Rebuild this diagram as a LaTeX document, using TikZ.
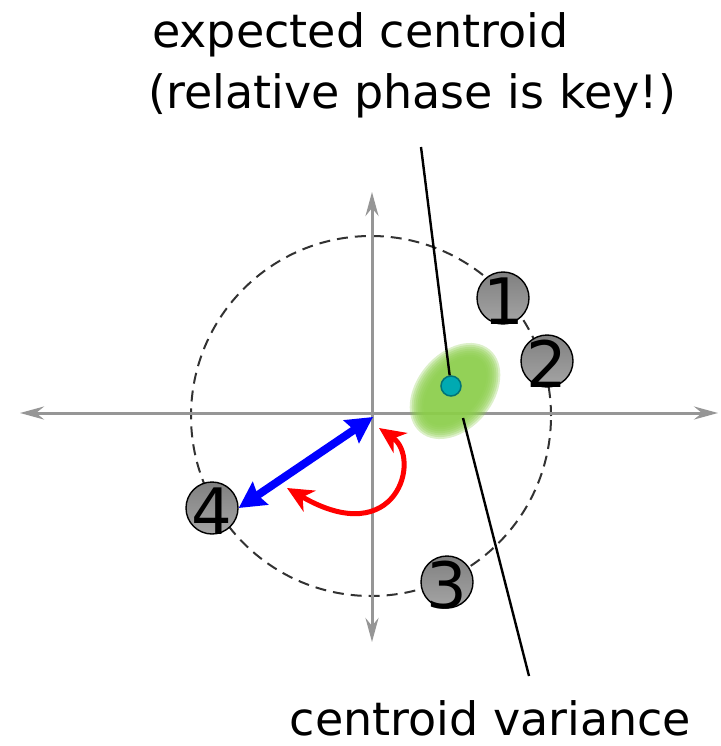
\documentclass[tikz,border=0pt]{standalone}
\usepackage{fontspec}
\setmainfont{DejaVu Sans}
\usetikzlibrary{arrows.meta,calc}
\definecolor{axisgray}{RGB}{150,150,150}
\definecolor{blobgreen}{RGB}{140,206,76}
\definecolor{dotcyan}{RGB}{0,170,178}
\definecolor{dotedge}{RGB}{0,115,120}
\definecolor{dashgray}{RGB}{50,50,50}
\definecolor{balltop}{RGB}{128,128,128}
\definecolor{ballbot}{RGB}{165,165,165}
\begin{document}
\begin{tikzpicture}[x=1pt,y=-1pt,
  axisline/.style={draw=axisgray, line width=3pt,
    {Stealth[length=24pt,width=13pt,inset=8pt]}-{Stealth[length=24pt,width=13pt,inset=8pt]}},
  orbit/.style={circle, draw=dashgray, line width=2pt, dash pattern=on 11pt off 7pt, minimum size=360pt, inner sep=0pt},
  ball/.style={circle, draw=black, line width=1.4pt, top color=balltop, bottom color=ballbot, minimum size=52pt, inner sep=0pt},
  digit/.style={inner sep=0pt, font=\fontsize{64}{64}\selectfont},
  lbl/.style={inner sep=0pt, font=\fontsize{46}{46}\selectfont},
  leader/.style={draw=black, line width=2.4pt},
  centroid/.style={circle, draw=dotedge, line width=1.5pt, fill=dotcyan, minimum size=20pt, inner sep=0pt},
  bluearrow/.style={draw=blue, line width=8pt,
    {Stealth[length=26pt,width=27pt,inset=3pt]}-{Stealth[length=26pt,width=27pt,inset=3pt]}},
  redarrow/.style={draw=red, line width=5pt,
    {Stealth[length=26pt,width=24pt,inset=8pt]}-{Stealth[length=26pt,width=24pt,inset=8pt]}}
]
\useasboundingbox (0,0) rectangle (720,746);

% dashed circle
\node[orbit] (orb) at (371,416) {};

% axes
\coordinate (xl) at (20,413);
\coordinate (xr) at (718,413);
\coordinate (yt) at (372,192);
\coordinate (yb) at (372,642);
\draw[axisline] (xl) -- (xr);
\draw[axisline] (yb) -- (yt);

% green blob (blurred ellipse)
\begin{scope}[shift={(455,391)}, rotate=50]
  \foreach \i in {0,...,7}
    \fill[blobgreen, fill opacity=0.3] (0,0) ellipse ({40+2*\i} and {24+2*\i});
\end{scope}

% balls
\node[ball] (n1) at (503,298) {};
\node[ball] (n2) at (547,361) {};
\node[ball] (n3) at (447,582) {};
\node[ball] (n4) at (212,508) {};
\node[digit] (d1) at ($(n1)+(1,3)$) {1};
\node[digit] (d2) at ($(n2)+(0,3)$) {2};
\node[digit] (d3) at ($(n3)+(0,3)$) {3};
\node[digit] (d4) at ($(n4)+(0,3)$) {4};

% blue and red arrows
\coordinate (o) at (373,417);
\draw[bluearrow] (n4.east) -- (o);
\coordinate (ra) at (379,428);
\coordinate (rb) at (287,488);
\draw[redarrow] (ra) .. controls (422,458) and (397,552) .. (rb);

% leaders
\coordinate (ectop) at (421,147);
\node[centroid] (ec) at (451,386) {};
\draw[leader] (ectop) -- (ec);
\coordinate (cvtop) at (463,418);
\coordinate (cvbot) at (529,676);
\draw[leader] (cvtop) -- (cvbot);

% labels
\node[lbl, anchor=base west] (t1) at (152,48) {expected centroid};
\node[lbl, anchor=base west] (t2) at (148,109) {(relative phase is key!)};
\node[lbl, anchor=base west] (t3) at (289.5,735) {centroid variance};
\end{tikzpicture}
\end{document}
